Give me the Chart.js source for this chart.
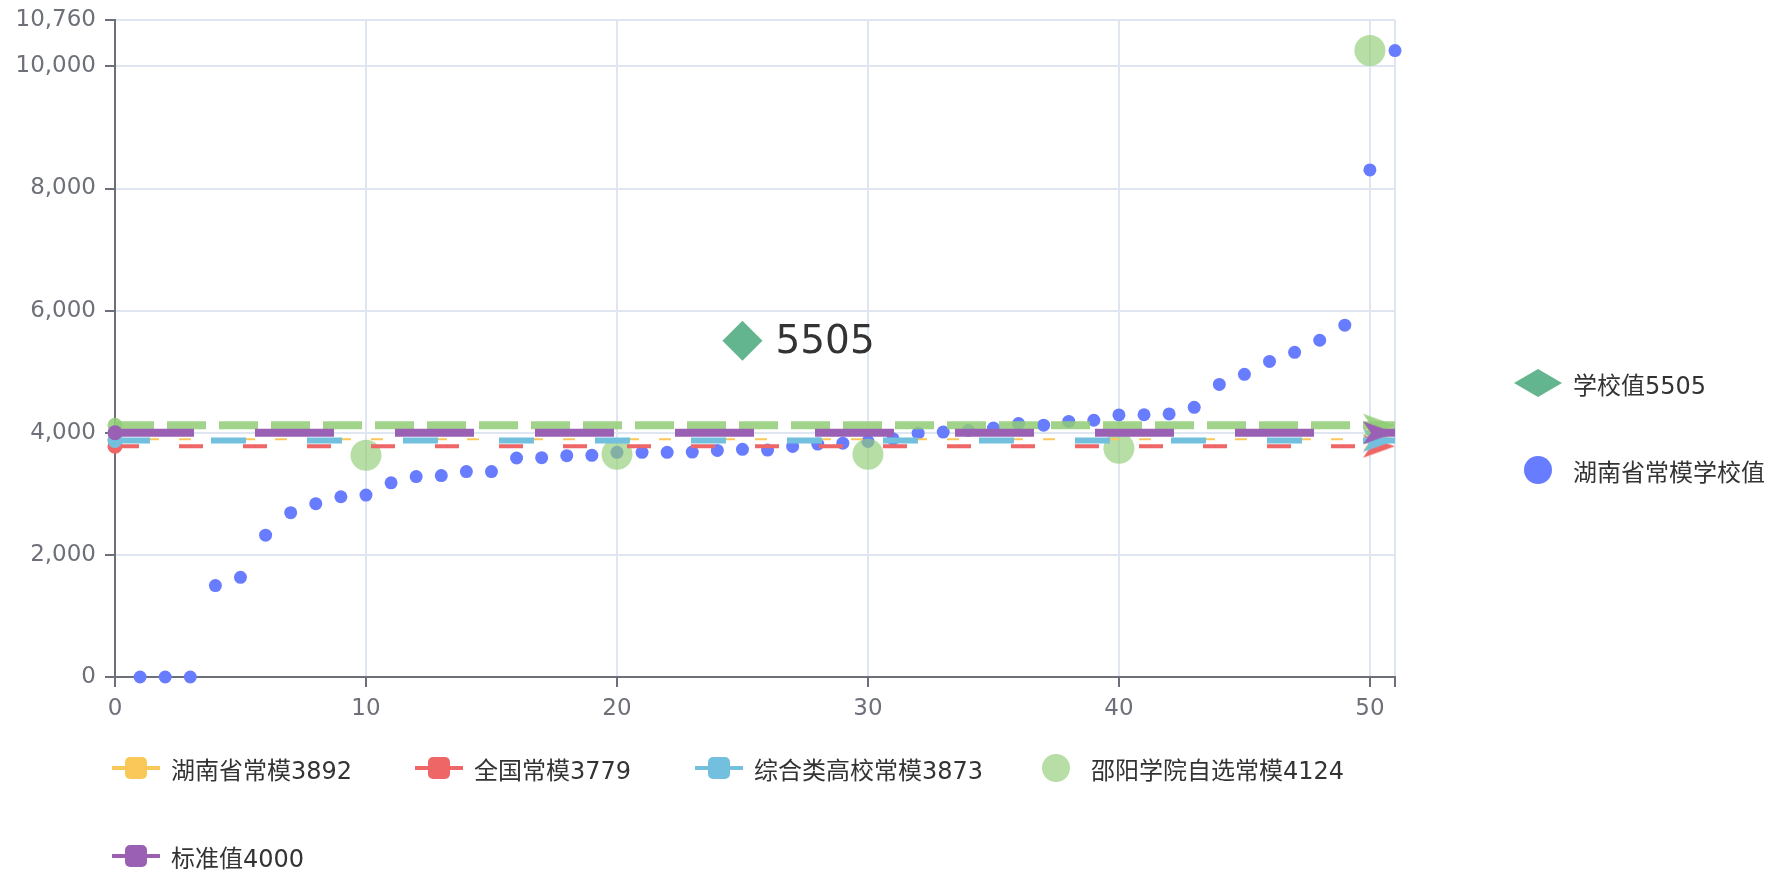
<!DOCTYPE html>
<html lang="zh-CN">
<head>
<meta charset="utf-8">
<title>常模对比</title>
<script src="https://cdn.jsdelivr.net/npm/chart.js@4.4.1/dist/chart.umd.min.js"></script>
<style>
  html, body { margin: 0; padding: 0; background: #fff; }
  #wrap {
    position: relative; width: 1780px; height: 872px; overflow: hidden;
    font-family: "DejaVu Sans", "Noto Sans CJK SC", sans-serif;
  }
  #chart { position: absolute; left: 0; top: 0; }
  .legend-item {
    position: absolute; display: flex; align-items: center; height: 30px;
    font-size: 24px; color: #333; white-space: nowrap; transform: translateY(-50%);
  }
  .icon { position: relative; width: 48px; height: 30px; margin-right: 11px; flex: none; }
  .icon.line::before {
    content: ''; position: absolute; left: 0; right: 0; top: 13px; height: 4px; background: var(--c);
  }
  .icon.line::after {
    content: ''; position: absolute; left: 13px; top: 4px; width: 22px; height: 22px;
    border-radius: 5px; background: var(--c);
  }
  .icon.dot::after {
    content: ''; position: absolute; left: 10px; top: 1px; width: 28px; height: 28px;
    border-radius: 50%; background: var(--c);
  }
  .icon.diamond::after {
    content: ''; position: absolute; left: 0; top: 1px; width: 48px; height: 28px; background: var(--c);
    clip-path: polygon(50% 0, 100% 50%, 50% 100%, 0 50%);
  }
</style>
</head>
<body>
<div id="wrap">
  <canvas id="chart" width="1780" height="872"></canvas>
</div>
<script>
// --- données ---
const normNames = ['湖南省常模', '全国常模', '综合类高校常模', '邵阳学院自选常模', '标准值'];
const normValues = [3892, 3779, 3873, 4124, 4000];
const lineSpan = [0, 51];

const schoolLabel = '学校值';
const schoolPos = 25;
const schoolValue = 5505;

const provinceLabel = '湖南省常模学校值';
// valeurs pour x = 1 .. 51
const provinceValues = [
  0, 0, 0, 1497, 1633, 2323, 2691, 2838, 2952, 2979,
  3180, 3283, 3299, 3364, 3364, 3587, 3592, 3625, 3630, 3680,
  3679, 3679, 3684, 3711, 3728, 3717, 3777, 3814, 3830, 3858,
  3900, 3994, 4012, 4040, 4078, 4150, 4125, 4185, 4205, 4292,
  4295, 4308, 4417, 4792, 4957, 5168, 5318, 5515, 5762, 8305,
  10260
];

const customNormX = [10, 20, 30, 40, 50];
const customNormValues = [3632, 3648, 3648, 3746, 10260];

const xTicks = [0, 10, 20, 30, 40, 50, 51];
const yTicks = [0, 2000, 4000, 6000, 8000, 10000, 10760];

// --- styles ---
const FONT = '"DejaVu Sans", "Noto Sans CJK SC", sans-serif';
const AXIS = '#6e7079';
const GRID = '#e0e6f1';
const normStyles = [
  { color: '#fac858', width: 2, dash: [12, 20], order: 5 },
  { color: '#ee6666', width: 4, dash: [24, 40], order: 4 },
  { color: '#73c0de', width: 6, dash: [35, 61], order: 3 },
  { color: 'rgba(145,204,117,0.85)', width: 8, dash: [39, 13], order: 2 },
  { color: '#9a60b4', width: 8, dash: [79, 61], order: 1 }
];
const dotColor = 'rgb(104,124,255)';
const customColor = 'rgba(145,204,117,0.65)';
const diamondColor = 'rgba(59,162,114,0.8)';

// flèche façon echarts, pointe au centre du canvas
function makeArrow(color) {
  const c = document.createElement('canvas');
  c.width = 64;
  c.height = 24;
  const g = c.getContext('2d');
  g.fillStyle = color;
  g.beginPath();
  g.moveTo(32, 12);
  g.lineTo(0, 0.5);
  g.lineTo(8, 12);
  g.lineTo(0, 23.5);
  g.closePath();
  g.fill();
  return c;
}

const datasets = [];

datasets.push({
  type: 'scatter',
  label: schoolLabel + schoolValue,
  data: [{ x: schoolPos, y: schoolValue }],
  pointStyle: 'rectRot',
  pointRadius: 20,
  backgroundColor: diamondColor,
  borderWidth: 0,
  order: 0
});

normNames.forEach((name, i) => {
  const st = normStyles[i];
  datasets.push({
    type: 'line',
    label: name + normValues[i],
    data: lineSpan.map(x => ({ x: x, y: normValues[i] })),
    borderColor: st.color,
    borderWidth: st.width,
    borderDash: st.dash,
    pointStyle: ['circle', makeArrow(st.color)],
    pointRadius: [7.5, 16],
    pointBackgroundColor: st.color,
    pointBorderWidth: 0,
    clip: false,
    order: st.order
  });
});

datasets.push({
  type: 'scatter',
  label: normNames[3] + normValues[3],
  data: customNormX.map((x, i) => ({ x: x, y: customNormValues[i] })),
  pointRadius: 15.5,
  backgroundColor: customColor,
  borderWidth: 0,
  clip: false,
  order: 6
});

datasets.push({
  type: 'scatter',
  label: provinceLabel,
  data: provinceValues.map((v, i) => ({ x: i + 1, y: v })),
  pointRadius: 6.5,
  backgroundColor: dotColor,
  borderWidth: 0,
  clip: false,
  order: 7
});

// étiquette "5505" à droite du losange
const pointLabel = {
  id: 'pointLabel',
  afterDatasetsDraw(chart) {
    const pt = chart.getDatasetMeta(0).data[0];
    if (!pt) return;
    const ctx = chart.ctx;
    ctx.save();
    ctx.font = '39px ' + FONT;
    ctx.fillStyle = '#333';
    ctx.textAlign = 'left';
    ctx.textBaseline = 'middle';
    ctx.fillText(String(schoolValue), pt.x + 33, pt.y + 2);
    ctx.restore();
  }
};

new Chart(document.getElementById('chart'), {
  data: { datasets },
  options: {
    responsive: false,
    animation: false,
    events: [],
    layout: { padding: { left: 0, right: 385, top: 16, bottom: 0 } },
    plugins: { legend: { display: false }, tooltip: { enabled: false } },
    scales: {
      x: {
        type: 'linear',
        min: lineSpan[0],
        max: lineSpan[1],
        afterBuildTicks: s => { s.ticks = xTicks.map(v => ({ value: v })); },
        afterFit: s => { s.height = 195; s.paddingLeft = 0; s.paddingRight = 0; },
        ticks: {
          autoSkip: false,
          maxRotation: 0,
          padding: 8,
          color: AXIS,
          font: { family: FONT, size: 23 },
          callback: v => (v === lineSpan[1] ? '' : String(v))
        },
        grid: { color: GRID, lineWidth: 2, tickColor: AXIS, tickLength: 10, tickWidth: 2 },
        border: { color: AXIS, width: 2 }
      },
      y: {
        type: 'linear',
        min: yTicks[0],
        max: yTicks[yTicks.length - 1],
        afterBuildTicks: s => { s.ticks = yTicks.map(v => ({ value: v })); },
        afterFit: s => { s.width = 115; s.paddingTop = 0; s.paddingBottom = 0; },
        ticks: {
          autoSkip: false,
          padding: 9,
          color: AXIS,
          font: { family: FONT, size: 23 },
          callback: v => v.toLocaleString('en-US')
        },
        grid: { color: GRID, lineWidth: 2, tickColor: AXIS, tickLength: 10, tickWidth: 2 },
        border: { color: AXIS, width: 2 }
      }
    }
  },
  plugins: [pointLabel]
});

// --- légendes (html) ---
const wrap = document.getElementById('wrap');
function addLegend(text, kind, color, left, cy) {
  const item = document.createElement('div');
  item.className = 'legend-item';
  item.style.left = left + 'px';
  item.style.top = cy + 'px';
  const icon = document.createElement('span');
  icon.className = 'icon ' + kind;
  icon.style.setProperty('--c', color);
  const label = document.createElement('span');
  label.textContent = text;
  item.appendChild(icon);
  item.appendChild(label);
  wrap.appendChild(item);
}

const bottomSlots = [[112, 768], [415, 768], [695, 768], [1032, 768], [112, 856]];
normNames.forEach((name, i) => {
  const isCustom = i === 3;
  addLegend(name + normValues[i], isCustom ? 'dot' : 'line',
    isCustom ? customColor : normStyles[i].color, bottomSlots[i][0], bottomSlots[i][1]);
});
addLegend(schoolLabel + schoolValue, 'diamond', diamondColor, 1514, 383);
addLegend(provinceLabel, 'dot', dotColor, 1514, 470);
</script>
</body>
</html>
